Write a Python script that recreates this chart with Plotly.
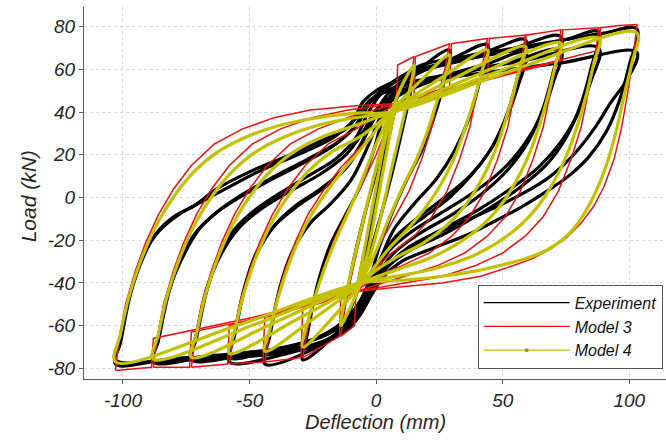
import plotly.graph_objects as go

# ---------------------------------------------------------------
# Cyclic load-deflection loops (deflection in mm, load in kN).
# Each inner list is one closed loop: reloading branch from the
# negative peak to the positive peak, then unloading back.
# ---------------------------------------------------------------

# Experiment
exp_x = [
    [-8, -4, 0, 4, 8, 4, 0, -4, -8],
    [-14, -12, -9, -5, 0, 4, 8, 15, 13, 10, 6, 1, -4, -8, -14],
    [-29, -27, -23, -18, -12, -6, -1, 3, 8, 17, 29, 27, 23, 18, 12, 6, 1, -3, -8, -16, -29],
    [-44, -42, -38, -33, -26, -18, -10, -4, 1, 6, 15, 30, 44, 41, 37, 31, 24, 15, 7, 2, -2, -7, -14, -25, -44],
    [-58, -56, -52, -47, -40, -32, -22, -13, -6, -1, 5, 14, 30, 45, 59, 56, 52, 46, 38, 29, 19, 9, 3, -1, -5, -11, -20, -35, -58],
    [-73, -71, -67, -62, -56, -48, -38, -27, -16, -8, -3, 3, 12, 30, 52, 73, 70, 66, 60, 52, 42, 30, 17, 7, 1, -3, -8, -16, -30, -52, -73],
    [-88, -86, -82, -77, -71, -63, -54, -42, -29, -16, -8, -3, 4, 14, 32, 55, 75, 88, 85, 81, 75, 67, 56, 42, 27, 13, 5, 0, -4, -9, -17, -30, -50, -70, -88],
    [-103, -101, -97, -92, -87, -80, -72, -63, -50, -36, -21, -11, -5, 0, 8, 18, 35, 55, 75, 90, 103, 100, 96, 91, 84, 76, 70, 58, 47, 37, 22, 10, 3, -2, -7, -14, -25, -42, -65, -85, -103],
    [-58, -56, -52, -47, -40, -31, -20, -11, -5, 0, 8, 25, 45, 59, 56, 51, 45, 37, 27, 17, 8, 2, -2, -6, -13, -24, -40, -58],
    [-73, -71, -67, -61, -54, -45, -34, -22, -12, -5, 0, 10, 30, 52, 73, 70, 65, 58, 49, 38, 26, 14, 5, 0, -4, -10, -19, -35, -55, -73],
    [-88, -86, -82, -76, -70, -62, -52, -40, -27, -15, -7, -2, 8, 30, 58, 88, 85, 80, 73, 64, 53, 40, 26, 12, 4, -1, -6, -12, -22, -42, -65, -88],
    [-103, -101, -97, -92, -86, -78, -69, -58, -45, -31, -17, -8, -2, 10, 40, 73, 103, 99, 93, 86, 78, 70, 64, 50, 37, 22, 10, 3, -2, -7, -14, -25, -45, -75, -103],
]
exp_y = [
    [-45, -22, 2, 25, 45, 22, -2, -25, -45],
    [-62, -48, -30, -10, 12, 32, 46, 60, 46, 30, 10, -12, -32, -46, -62],
    [-76, -63, -40, -22, -8, 6, 22, 38, 50, 60, 69, 55, 38, 22, 8, -8, -24, -40, -52, -64, -76],
    [-78, -65, -42, -25, -12, -3, 8, 22, 36, 48, 57, 65, 71.5, 55, 38, 22, 9, -3, -15, -28, -40, -52, -62, -71, -78],
    [-77, -65, -43, -26, -13, -4, 4, 13, 25, 38, 49, 57, 64, 69, 73.8, 57, 40, 24, 11, 0, -9, -18, -28, -38, -49, -59, -67, -73, -77],
    [-76, -66, -44, -27, -15, -6, 2, 10, 18, 28, 40, 50, 57, 63, 69, 75.4, 59, 42, 26, 13, 2, -8, -17, -26, -36, -47, -57, -65, -71, -74, -76],
    [-77, -67, -45, -28, -16, -7, 0, 8, 16, 25, 34, 44, 52, 59, 64, 69, 74, 77.7, 61, 44, 28, 15, 4, -7, -17, -25, -32, -40, -50, -59, -66, -71, -74, -75.5, -77],
    [-78, -68, -45, -28, -17, -9, -4, 4, 12, 19, 27, 33, 45, 50, 55, 62, 66, 70, 74, 77, 79, 62, 45, 31, 19, 10, 5, -4, -11, -17, -24, -30, -37, -46, -56, -64, -70, -73.5, -75.5, -76.5, -78],
    [-75, -64, -42, -25, -13, -4, 5, 15, 27, 38, 47, 56, 63, 68, 52, 36, 22, 10, 0, -9, -18, -28, -38, -48, -58, -66, -71, -75],
    [-75, -64, -43, -26, -14, -5, 3, 11, 20, 31, 41, 50, 57, 63, 69, 54, 38, 24, 12, 2, -7, -16, -25, -35, -46, -56, -64, -70, -73, -75],
    [-76, -65, -44, -27, -15, -6, 2, 10, 18, 26, 35, 45, 52, 58, 64, 70, 55, 40, 26, 14, 4, -6, -15, -24, -33, -43, -54, -62, -68, -72, -74, -76],
    [-76, -66, -44, -27, -16, -8, -2, 5, 13, 20, 28, 37, 46, 52, 58, 63, 68, 55, 45, 32, 20, 11, 6, -3, -10, -18, -26, -34, -44, -55, -63, -69, -73, -75, -76],
]

# Model 3
m3_x = [
    [-8, -5, -2, 1, 4, 8, 5, 2, -1, -4, -8],
    [-14, -12.5, -10, -7, -3, 1, 5, 8, 8.5, 15, 13.5, 11, 8, 4, 0, -4, -8, -8.5, -14],
    [-29, -27.5, -25, -21, -17, -12, -6, 0, 5, 8, 15, 15.5, 29, 27.5, 25, 22, 18, 13, 7, 0, -5, -8, -14, -14.5, -29],
    [-44, -42.5, -40, -36, -32, -27, -21, -14, -5, 3, 8, 18, 29, 29.7, 44, 42.5, 40, 37, 33, 28, 22, 15, 5, -3, -8, -18, -29, -29.7, -44],
    [-58, -56.5, -54, -50, -46, -41, -35, -28, -19, -8, 0, 8, 26, 44, 44.7, 59, 57.5, 55, 52, 48, 43, 37, 30, 21, 10, 0, -8, -26, -44, -44.7, -58],
    [-73, -71.5, -69, -65, -61, -56, -50, -43, -34, -23, -10, 8, 33, 58.5, 59.2, 73, 71.5, 69, 66, 62, 57, 51, 44, 35, 24, 11, -8, -33, -58, -58.7, -73],
    [-88, -86.5, -84, -80, -76, -71, -65, -58, -49, -38, -25, -11, 8, 40, 73, 73.7, 88, 86.5, 84, 81, 77, 72, 66, 59, 50, 39, 26, 11, -8, -40, -73, -73.7, -88],
    [-103, -101.5, -99, -95, -91, -86, -80, -73, -64, -53, -40, -26, -8, 8, 48, 88, 88.7, 96, 103, 101.5, 99.5, 97, 94, 90, 86, 81, 75, 69, 62, 54, 41, 26, 8, -8, -48, -88, -88.7, -96, -103],
]
m3_y = [
    [-47, -28, -8, 12, 30, 47, 28, 8, -12, -30, -47],
    [-65, -52, -38, -22, -2, 18, 34, 44, 62, 66, 52, 38, 22, 2, -18, -34, -44, -60, -65],
    [-75, -64, -50, -34, -21, -8, 5, 20, 35, 44, 48, 66, 72, 62, 50, 33, 18, 3, -10, -25, -37, -44, -48, -65, -75],
    [-77, -66, -50, -34, -21, -8, 3, 14, 25, 36, 44, 48, 52, 72, 74.5, 65, 50, 33, 18, 3, -9, -18, -27, -37, -44, -48, -52, -75, -77],
    [-78, -66, -50, -34, -21, -8, 4, 15, 25, 32, 38, 44, 50, 56, 74.5, 76, 65, 50, 33, 18, 3, -9, -18, -26, -32, -37, -44, -50, -56, -77, -78],
    [-79.5, -66, -50, -34, -21, -8, 4, 15, 25, 32, 38, 44, 52, 60, 76, 78.5, 65, 50, 33, 18, 3, -9, -18, -26, -32, -37, -44, -52, -60, -78, -79.5],
    [-79.5, -66, -50, -34, -21, -8, 4, 15, 25, 32, 37.5, 41, 44, 54, 64, 78.5, 79.5, 65, 50, 33, 18, 3, -9, -18, -26, -32, -37, -40, -44, -55, -63, -79.5, -79.5],
    [-81, -66, -50, -34, -21, -8, 4, 15, 25, 32, 37.5, 41, 43, 44, 57, 69, 79.5, 80.5, 81, 65, 50, 33, 18, 5, -4, -12, -19, -24, -28.5, -32, -37, -40, -42, -44, -56, -66, -79.5, -80.2, -81],
]

# Model 4
m4_x = [
    [-8, -6, -3, 0, 3, 6, 8, 6, 3, 0, -3, -6, -8],
    [-14, -12, -9, -5, 0, 4, 6, 10, 15, 13, 10, 6, 2, -2, -6, -10, -14],
    [-29, -27, -24, -20, -16, -11, -5, 0, 4, 6, 17, 29, 27, 24, 20, 16, 11, 5, 0, -4, -6, -17, -29],
    [-44, -42, -39, -35, -31, -26, -20, -13, -5, 1, 6, 25, 44, 42, 39, 35, 31, 26, 20, 13, 5, -1, -6, -25, -44],
    [-58, -56, -53, -49, -45, -40, -34, -27, -18, -7, 0, 6, 32, 59, 57, 54, 50, 46, 41, 35, 28, 19, 8, 0, -6, -32, -58],
    [-73, -71, -68, -64, -60, -55, -49, -42, -33, -22, -9, 6, 40, 73, 71, 68, 64, 60, 55, 49, 42, 33, 22, 9, -6, -40, -73],
    [-88, -86, -83, -79, -75, -70, -64, -57, -48, -37, -24, -10, 6, 47, 88, 86, 83, 79, 75, 70, 64, 57, 48, 37, 24, 10, -6, -47, -88],
    [-103, -101, -98, -94, -90, -85, -79, -72, -63, -52, -39, -25, -8, 6, 55, 103, 101, 98, 95, 92, 88, 83, 77, 71, 65, 58, 50, 39, 25, 8, -6, -55, -103],
]
m4_y = [
    [-45, -33, -14, 5, 24, 38, 45, 33, 14, -5, -24, -38, -45],
    [-60, -46, -30, -10, 14, 32, 40, 52, 62, 49, 33, 13, -8, -26, -40, -51, -60],
    [-70, -58, -46, -32, -20, -7, 10, 25, 35, 40, 54, 66.8, 56, 45, 30, 18, 6, -10, -25, -35, -40, -56, -70],
    [-72, -62, -48, -33, -21, -9, 2, 13, 24, 33, 40, 55.5, 69, 60, 47, 32, 19, 7, -4, -14, -24, -33, -40, -57, -72],
    [-73, -63, -48, -33, -21, -9, 2, 12, 21, 28, 34, 40, 56.5, 70.7, 62, 48, 32, 19, 7, -4, -13, -21, -28, -34, -40, -57.5, -73],
    [-74.8, -64, -48, -33, -21, -9, 2, 12, 21, 28, 33.5, 40, 57.5, 72.3, 63, 48, 32, 19, 7, -4, -13, -21, -28, -33.5, -40, -58.5, -74.8],
    [-75.6, -64, -48, -33, -21, -9, 2, 12, 21, 28, 33.5, 37, 40, 58.5, 74.6, 63, 48, 32, 19, 7, -4, -13, -21, -28, -33, -36.5, -40, -59, -75.6],
    [-77, -64, -48, -33, -21, -9, 2, 12, 21, 28, 33.5, 37, 39.5, 40, 60, 77, 63, 48, 32, 19, 6, -6, -16, -22, -26, -29, -31.5, -34.5, -37, -39, -40, -60, -77],
]

series_names = ["Experiment", "Model 3", "Model 4"]
series_colors = ["#000000", "#ee1111", "#c2c200"]
x_ticks = [-100, -50, 0, 50, 100]
y_ticks = [-80, -60, -40, -20, 0, 20, 40, 60, 80]
x_title = "Deflection (mm)"
y_title = "Load (kN)"


def join_loops(loops):
    """Concatenate loops into one list, separated by gaps."""
    out = []
    for i, loop in enumerate(loops):
        if i:
            out.append(None)
        out.extend(loop)
    return out


def italic_labels(vals):
    return ["<i>%d</i>" % v for v in vals]


FONT = "Liberation Sans, Arial, sans-serif"
TEXT_COLOR = "#262626"

fig = go.Figure()

# Data curves (drawn in order so Model 4 sits on top)
fig.add_trace(go.Scatter(
    x=join_loops(exp_x), y=join_loops(exp_y), name=series_names[0], showlegend=False,
    mode="lines", line=dict(color=series_colors[0], width=3.2, shape="spline", smoothing=1.0),
))
fig.add_trace(go.Scatter(
    x=join_loops(m3_x), y=join_loops(m3_y), name=series_names[1], showlegend=False,
    mode="lines", line=dict(color=series_colors[1], width=1.5),
))
fig.add_trace(go.Scatter(
    x=join_loops(m4_x), y=join_loops(m4_y), name=series_names[2], showlegend=False,
    mode="lines", line=dict(color=series_colors[2], width=3.2, shape="spline", smoothing=1.0),
))

# Legend entries with thin sample lines
for i, (name, col) in enumerate(zip(series_names, series_colors)):
    fig.add_trace(go.Scatter(
        x=[None], y=[None], name="<i>%s</i>" % name,
        mode="lines+markers" if i == 2 else "lines",
        line=dict(color=col, width=1.3),
        marker=dict(size=4, color="#9a9a00"),
    ))

axis_common = dict(
    showline=True, linecolor="#5a5a5a", linewidth=1, mirror=False,
    ticks="outside", ticklen=4, tickcolor="#5a5a5a", tickwidth=1,
    showgrid=True, gridcolor="#d9d9d9", griddash="dot", gridwidth=1,
    zeroline=False, automargin=False,
    tickfont=dict(family=FONT, size=19, color=TEXT_COLOR),
)

fig.update_layout(
    width=666, height=440,
    margin=dict(l=84, r=0, t=7, b=61),
    paper_bgcolor="white", plot_bgcolor="white",
    xaxis=dict(
        range=[-115.4, 114.5], tickmode="array", tickvals=x_ticks, ticktext=italic_labels(x_ticks),
        **axis_common,
    ),
    yaxis=dict(
        range=[-85.0, 89.2], tickmode="array", tickvals=y_ticks, ticktext=italic_labels(y_ticks),
        **axis_common,
    ),
    legend=dict(
        x=0.9943, xanchor="right", y=0.0277, yanchor="bottom",
        bgcolor="white", bordercolor="#555555", borderwidth=1,
        font=dict(family=FONT, size=16, color="#111111"),
        itemwidth=86,
    ),
    showlegend=True,
    annotations=[
        dict(text="<i>%s</i>" % x_title, xref="paper", yref="paper", x=0.5, y=-0.1156,
             xanchor="center", yanchor="middle", showarrow=False,
             font=dict(family=FONT, size=20, color=TEXT_COLOR)),
        dict(text="<i>%s</i>" % y_title, xref="paper", yref="paper", x=-0.0962, y=0.491,
             xanchor="center", yanchor="middle", textangle=-90, showarrow=False,
             font=dict(family=FONT, size=21, color=TEXT_COLOR)),
    ],
)

fig.write_html("out.html")
